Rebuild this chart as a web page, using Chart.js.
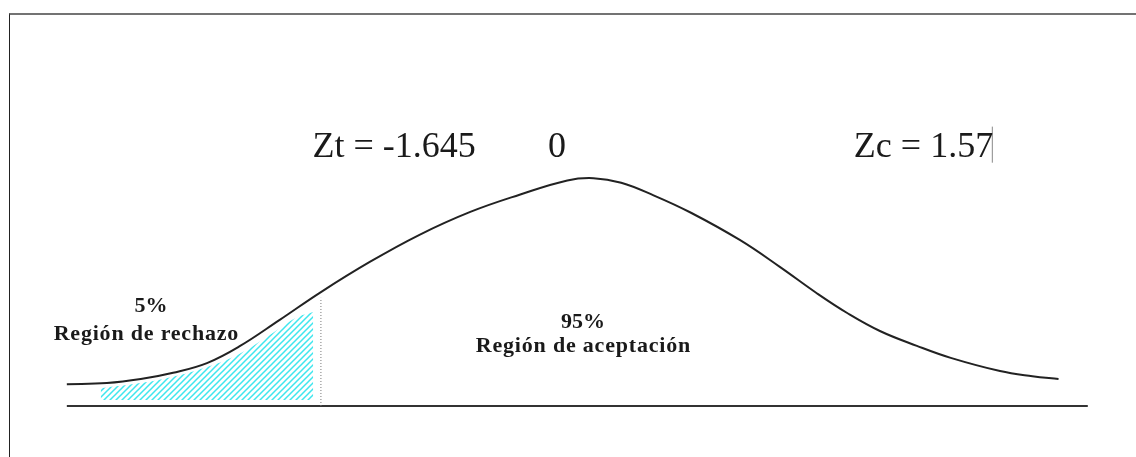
<!DOCTYPE html>
<html>
<head>
<meta charset="utf-8">
<script src="https://cdn.jsdelivr.net/npm/chart.js@4"></script>
<style>
  html, body { margin: 0; padding: 0; background: #fff; }
  #frame { position: absolute; left: 9px; top: 13px; width: 1127px; height: 444px;
           border-top: 2px solid #737373; border-left: 1px solid #222; }
  #wrap { position: absolute; left: 0; top: 0; width: 1136px; height: 457px; }
</style>
</head>
<body>
<div id="frame"></div>
<div id="wrap"><canvas id="chart" width="1136" height="457"></canvas></div>
<script>
// bell curve (z, density)
let curve_z = [-3.30, -3.04, -2.82, -2.61, -2.39, -2.18, -1.92, -1.65, -1.33, -1.01, -0.68, -0.36, -0.05, 0.12, 0.30, 0.51, 0.75, 1.07, 1.33, 1.57, 1.77, 1.98, 2.22, 2.44, 2.76, 2.97, 3.14];
let curve_y = [0.038, 0.040, 0.047, 0.058, 0.075, 0.104, 0.150, 0.199, 0.252, 0.299, 0.339, 0.369, 0.394, 0.398, 0.390, 0.368, 0.338, 0.290, 0.243, 0.197, 0.162, 0.131, 0.105, 0.084, 0.061, 0.052, 0.047];

// hatched rejection area (top edge)
let hatch_z = [-3.08, -2.82, -2.61, -2.39, -2.18, -1.96, -1.81, -1.70];
let hatch_y = [0.031, 0.040, 0.051, 0.068, 0.091, 0.128, 0.154, 0.164];
let hatch_floor = 0.0105;

// critical value line, base line, stray cursor mark
let crit_z = [-1.65, -1.65];
let crit_y = [0, 0.189];
let base_z = [-3.30, 3.33];
let base_y = [0, 0];
let cursor_z = [2.71, 2.71];
let cursor_y = [0.425, 0.488];

let labels = ["Zt = -1.645", "0", "Zc = 1.57", "5%", "Región de rechazo", "95%", "Región de aceptación"];

function pts(xs, ys) {
  return xs.map((x, i) => ({ x: x, y: ys[i] }));
}

// text placement (data coords) + font per label
let big = "36px 'Liberation Serif'";
let small = "bold 22px 'Liberation Serif'";
let label_opts = [
  { x: -1.175, y: 0.435, font: big, sp: 0 },
  { x: -0.117, y: 0.435, font: big, sp: 0 },
  { x: 2.263, y: 0.435, font: big, sp: 0 },
  { x: -2.753, y: 0.164, font: small, sp: 0 },
  { x: -2.786, y: 0.115, font: small, sp: 0.8 },
  { x: 0.052, y: 0.136, font: small, sp: 0 },
  { x: 0.052, y: 0.094, font: small, sp: 0.8 }
];

function makeHatch() {
  let c = document.createElement("canvas");
  c.width = 6; c.height = 6;
  let g = c.getContext("2d");
  g.strokeStyle = "#3ee6ee";
  g.lineWidth = 1.5;
  g.beginPath();
  g.moveTo(-1, 7); g.lineTo(7, -1);
  g.moveTo(-4, 4); g.lineTo(4, -4);
  g.moveTo(2, 10); g.lineTo(10, 2);
  g.stroke();
  return g.createPattern(c, "repeat");
}

const textPlugin = {
  id: "texts",
  afterDatasetsDraw(chart) {
    let ctx = chart.ctx;
    let xs = chart.scales.x, ys = chart.scales.y;
    ctx.save();
    ctx.fillStyle = "#1a1a1a";
    ctx.textAlign = "center";
    ctx.textBaseline = "alphabetic";
    labels.forEach((t, i) => {
      let o = label_opts[i];
      ctx.font = o.font;
      ctx.letterSpacing = o.sp + "px";
      ctx.fillText(t, xs.getPixelForValue(o.x) + o.sp / 2, ys.getPixelForValue(o.y));
    });
    ctx.restore();
  }
};

let chart = new Chart(document.getElementById("chart"), {
  type: "scatter",
  data: {
    datasets: [
      {
        label: "hatch",
        data: pts(hatch_z, hatch_y),
        showLine: true,
        borderWidth: 0,
        borderColor: "rgba(0,0,0,0)",
        backgroundColor: makeHatch(),
        fill: { value: hatch_floor },
        pointRadius: 0,
        tension: 0.4
      },
      {
        label: "curve",
        data: pts(curve_z, curve_y),
        showLine: true,
        borderColor: "#222",
        borderWidth: 2,
        pointRadius: 0,
        fill: false,
        tension: 0.4
      },
      {
        label: "crit",
        data: pts(crit_z, crit_y),
        showLine: true,
        borderColor: "#777",
        borderWidth: 1,
        borderDash: [1, 2],
        pointRadius: 0,
        fill: false
      },
      {
        label: "base",
        data: pts(base_z, base_y),
        showLine: true,
        borderColor: "#333",
        borderWidth: 2,
        pointRadius: 0,
        fill: false
      },
      {
        label: "cursor",
        data: pts(cursor_z, cursor_y),
        showLine: true,
        borderColor: "#888",
        borderWidth: 1,
        pointRadius: 0,
        fill: false
      }
    ]
  },
  options: {
    responsive: false,
    animation: false,
    events: [],
    layout: { padding: 0 },
    plugins: { legend: { display: false }, tooltip: { enabled: false } },
    scales: {
      x: { type: "linear", min: -3.734, max: 3.643, display: false },
      y: { type: "linear", min: -0.0891, max: 0.7092, display: false }
    }
  },
  plugins: [textPlugin]
});
</script>
</body>
</html>
